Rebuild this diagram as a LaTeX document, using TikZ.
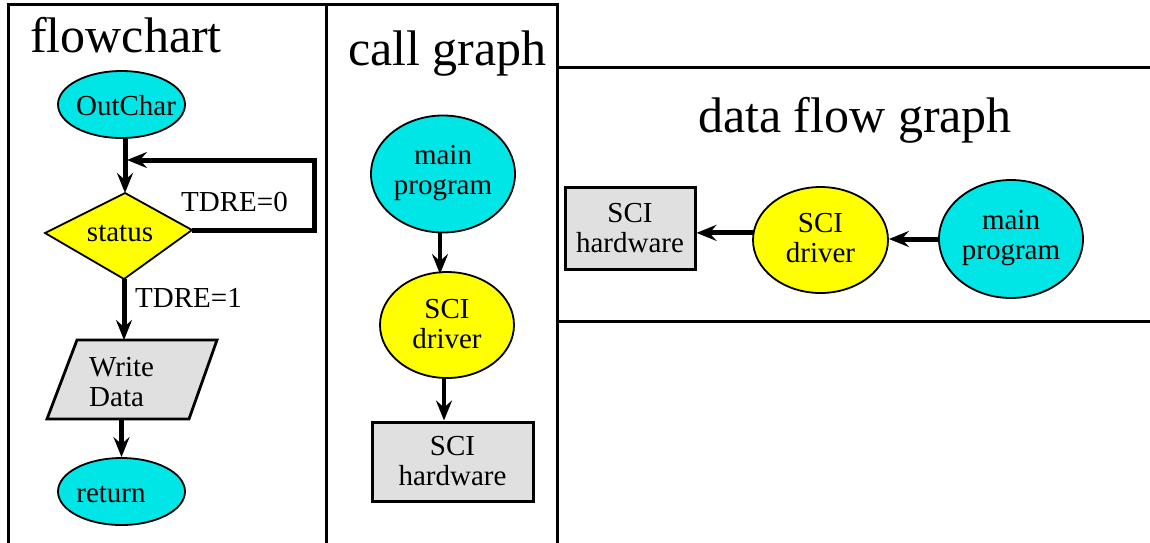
\documentclass[tikz,border=0pt]{standalone}
\usepackage{fontspec}
\setmainfont{Liberation Serif}
\newfontfamily\diagfont{Liberation Serif}
\usetikzlibrary{shapes.geometric,arrows.meta}
\definecolor{cyfill}{RGB}{0,229,229}
\definecolor{yefill}{RGB}{255,255,0}
\definecolor{grfill}{RGB}{224,224,224}
\begin{document}
\begin{tikzpicture}[x=1pt,y=-1pt,
  panel/.style={line width=3pt, line join=miter},
  title/.style={font=\diagfont\fontsize{50}{54}\selectfont, inner sep=0pt},
  lbl/.style={font=\diagfont\fontsize{29}{30}\selectfont, inner sep=0pt, align=center},
  ell/.style={ellipse, draw, line width=1.8pt, inner sep=0pt},
  box/.style={rectangle, draw, line width=3pt, fill=grfill, inner sep=0pt,
    font=\diagfont\fontsize{29}{30}\selectfont, align=center},
  flow/.style={line width=5pt, line join=miter,
    -{Stealth[length=20pt,width=16pt,inset=7pt]}},
  callarrow/.style={flow, line width=4.2pt}
]
\useasboundingbox (0,0) rectangle (1150,542);

% panel frames
\draw[panel] (8,544) -- (8,4) -- (326,4) -- (326,544);
\draw[panel] (326,4) -- (557,4) -- (557,544);
\draw[panel] (557,67) -- (1152,67);
\draw[panel] (557,321) -- (1152,321);

% titles
\node[title, anchor=base west] (tflow) at (30,52) {flowchart};
\node[title, anchor=base west] (tcall) at (348,65) {call graph};
\node[title, anchor=base] (tdata) at (855,132) {data flow graph};

% ---- flowchart ----
\node[ell, fill=cyfill, minimum width=127pt, minimum height=67pt] (oc) at (121.5,104.5) {};
\node[lbl, anchor=base] (octxt) at (126,115) {OutChar};

% decision diamond
\coordinate (dT) at (125,193);
\coordinate (dR) at (192,230);
\coordinate (dB) at (124,279);
\coordinate (dL) at (45,233);
\filldraw[fill=yefill, line width=1.8pt, line join=miter] (dT) -- (dR) -- (dB) -- (dL) -- cycle;
\node[lbl, anchor=base] (st) at (120,241) {status};

% output parallelogram
\coordinate (pTL) at (77,340);
\coordinate (pTR) at (217,340);
\coordinate (pBR) at (189,419);
\coordinate (pBL) at (47,419);
\filldraw[fill=grfill, line width=2.8pt, line join=miter] (pTL) -- (pTR) -- (pBR) -- (pBL) -- cycle;
\node[lbl, align=left, anchor=west] (wd) at (89,382) {Write\\Data};

\node[ell, fill=cyfill, minimum width=127pt, minimum height=67pt] (ret) at (121.5,491.5) {};
\node[lbl, anchor=base] (rettxt) at (111,502) {return};

\node[lbl, anchor=base] (t0) at (234.5,211) {TDRE=0};
\node[lbl, anchor=base] (t1) at (188.5,307) {TDRE=1};

\coordinate (lpR) at (314,160);
\coordinate (lpIn) at (127,160);
\draw[flow] (oc.south -| dT) -- (dT);
\draw[flow] (dR) -| (lpR) -- (lpIn);
\draw[flow] (dB) -- (dB |- pTL);
\draw[flow] (ret.north |- pBL) -- (ret.north);

% ---- call graph ----
\node[ell, fill=cyfill, minimum width=144pt, minimum height=117pt] (cm) at (443,174) {};
\node[lbl] (cmtxt) at (443,173) {main\\program};
\node[ell, fill=yefill, minimum width=134pt, minimum height=106pt] (cd) at (447,325) {};
\node[lbl] (cdtxt) at (447,324) {SCI\\driver};
\node[box, minimum width=161pt, minimum height=79pt] (ch) at (452.5,461.5) {SCI\\hardware};
\draw[callarrow] (cm.south -| 440,0) -- (440,274);
\draw[callarrow] (cd.south -| 444,0) -- (ch.north -| 444,0);

% ---- data flow graph ----
\node[box, minimum width=130pt, minimum height=82pt] (dh) at (630,228) {SCI\\hardware};
\node[ell, fill=yefill, minimum width=135pt, minimum height=106pt] (dd) at (820.5,240) {};
\node[lbl] (ddtxt) at (820.5,238) {SCI\\driver};
\node[ell, fill=cyfill, minimum width=144pt, minimum height=118pt] (dm) at (1011,239) {};
\node[lbl] (dmtxt) at (1011,238) {main\\program};
\draw[flow] (dm.west) -- (dm.west -| dd.east);
\draw[flow] (dd.174) -- (dd.174 -| dh.east);
\end{tikzpicture}
\end{document}
